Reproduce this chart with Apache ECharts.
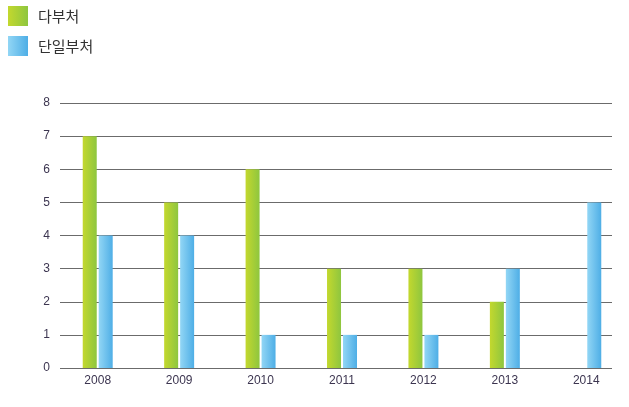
<!DOCTYPE html>
<html><head><meta charset="utf-8">
<script src="https://cdn.jsdelivr.net/npm/echarts@6/dist/echarts.min.js"></script>
<style>html,body{margin:0;padding:0;background:#fff}#c{width:629px;height:407px}</style>
</head><body><div id="c"></div>
<script>
const years = ['2008','2009','2010','2011','2012','2013','2014'];
const multiDept = [7, 5, 6, 3, 3, 2, null];
const singleDept = [4, 4, 1, 1, 1, 3, 5];
const yTicks = [0, 8, 1];

const font = '"Liberation Sans Narrow", "Liberation Sans", Arial, sans-serif';
const green = new echarts.graphic.LinearGradient(0,0,1,0,[{offset:0,color:'#c3d82e'},{offset:1,color:'#8ec63f'}]);
const blue = new echarts.graphic.LinearGradient(0,0,1,0,[{offset:0,color:'#92d6f5'},{offset:1,color:'#4eaee6'}]);
const chart = echarts.init(document.getElementById('c'));
chart.setOption({
  animation:false,
  legend:{orient:'vertical',left:3,top:1,itemWidth:20,itemHeight:20,itemGap:10,
    textStyle:{fontSize:15,color:'#333',fontFamily:'"Noto Sans CJK KR", sans-serif',padding:[0,0,0,5]},
    icon:'rect', data:['다부처','단일부처']},
  grid:[{left:57,right:2,top:103,height:265},{left:60,width:552,top:103,height:265}],
  xAxis:[
    {type:'category',gridIndex:0,data:years,axisLine:{show:false},axisTick:{show:false},
     axisLabel:{margin:7,fontSize:12,color:'#3c3550',fontFamily:font}},
    {type:'value',gridIndex:1,show:false,min:0,max:1}
  ],
  yAxis:[
    {type:'value',gridIndex:0,min:yTicks[0],max:yTicks[1],interval:yTicks[2],show:false},
    {type:'value',gridIndex:1,min:yTicks[0],max:yTicks[1],interval:yTicks[2],
     axisLine:{show:false},axisTick:{show:false},
     axisLabel:{margin:10,fontSize:12,color:'#3c3550',fontFamily:font},
     splitLine:{lineStyle:{color:'#6b6b6b',width:1}}}
  ],
  series:[
    {name:'다부처',type:'bar',xAxisIndex:0,yAxisIndex:0,data:multiDept,barWidth:14,barGap:'14%',itemStyle:{color:green}},
    {name:'단일부처',type:'bar',xAxisIndex:0,yAxisIndex:0,data:singleDept,barWidth:14,barGap:'14%',itemStyle:{color:blue}}
  ]
});
</script></body></html>
